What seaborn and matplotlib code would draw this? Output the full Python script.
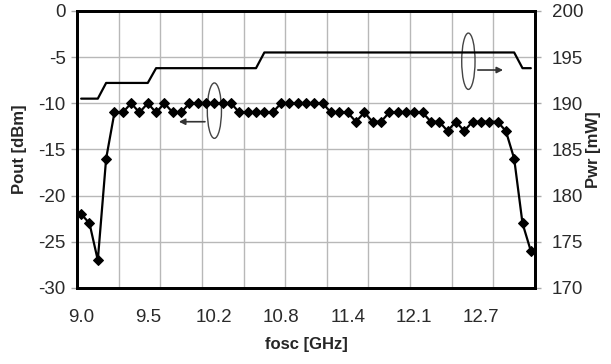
import numpy as np
import pandas as pd
import matplotlib
matplotlib.use("Agg")
import matplotlib.pyplot as plt
import seaborn as sns
from matplotlib.patches import Ellipse

# output power per frequency step (dBm)
pout = [-22, -23, -27, -16, -11, -11, -10, -11, -10, -11,
        -10, -11, -11, -10, -10, -10, -10, -10, -10, -11,
        -11, -11, -11, -11, -10, -10, -10, -10, -10, -10,
        -11, -11, -11, -12, -11, -12, -12, -11, -11, -11,
        -11, -11, -12, -12, -13, -12, -13, -12, -12, -12,
        -12, -13, -16, -23, -26]

# DC power consumption (mW)
pwr = [190.5, 190.5, 190.5, 192.2, 192.2, 192.2, 192.2, 192.2, 192.2, 193.8,
       193.8, 193.8, 193.8, 193.8, 193.8, 193.8, 193.8, 193.8, 193.8, 193.8,
       193.8, 193.8, 195.5, 195.5, 195.5, 195.5, 195.5, 195.5, 195.5, 195.5,
       195.5, 195.5, 195.5, 195.5, 195.5, 195.5, 195.5, 195.5, 195.5, 195.5,
       195.5, 195.5, 195.5, 195.5, 195.5, 195.5, 195.5, 195.5, 195.5, 195.5,
       195.5, 195.5, 195.5, 193.8, 193.8]

tick_labels = ["9.0", "9.5", "10.2", "10.8", "11.4", "12.1", "12.7"]

df = pd.DataFrame({"step": np.arange(len(pout)), "pout": pout, "pwr": pwr})

sns.set_style("white")
plt.rcParams['font.family'] = ['Liberation Sans', 'DejaVu Sans']
plt.rcParams['axes.unicode_minus'] = False

fig = plt.figure(figsize=(6.11, 3.64), dpi=100)
ax = fig.add_axes([0.126, 0.209, 0.7496, 0.761])
ax2 = ax.twinx()

sns.lineplot(data=df, x="step", y="pout", ax=ax, color="black", lw=1.6,
             marker="D", markersize=5.5, markeredgecolor="black")
sns.lineplot(data=df, x="step", y="pwr", ax=ax2, color="black", lw=1.6)

ax.set_xlim(-0.5, len(pout) - 0.5)
ax.set_ylim(-30, 0)
ax2.set_ylim(170, 200)

ax.set_xticks(np.arange(0, len(pout), 8))
ax.set_xticklabels(tick_labels)
ax.set_xticks(np.arange(4.5, len(pout) - 1, 5), minor=True)
ax.set_yticks(np.arange(-30, 1, 5))
ax2.set_yticks(np.arange(170, 201, 5))

ax.set_axisbelow(True)
ax.grid(which="minor", axis="x", color="#b8b8b8", lw=1)
ax.grid(which="major", axis="y", color="#b8b8b8", lw=1)
ax.grid(which="major", axis="x", visible=False)

ax.tick_params(axis="x", which="both", length=0, pad=15, labelsize=13.5, colors="#2a2a2a")
ax.tick_params(axis="y", length=4, width=1, color="#aaaaaa", pad=4, labelsize=13.5,
               labelcolor="#2a2a2a", left=True)
ax2.tick_params(axis="y", length=4, width=1, color="#aaaaaa", pad=8, labelsize=13.5,
                labelcolor="#2a2a2a", right=True)

for a in (ax, ax2):
    for s in a.spines.values():
        s.set_color("black")
        s.set_linewidth(2)

ax.set_xlabel("fosc [GHz]", fontweight="bold", fontsize=12, labelpad=8)
ax.set_ylabel("Pout [dBm]", fontweight="bold", fontsize=12, labelpad=8)
ax2.set_ylabel("Pwr [mW]", fontweight="bold", fontsize=12, labelpad=2)

# series markers: ellipse + arrow pointing to the matching axis
ax.add_patch(Ellipse((16.0, -10.8), 1.7, 6.0, fill=False, ec="#444444", lw=1))
ax.annotate("", xy=(11.4, -12.0), xytext=(15.2, -12.0),
            arrowprops=dict(arrowstyle="-|>", color="#333333", lw=1.2, mutation_scale=9))
ax.add_patch(Ellipse((46.5, -5.45), 1.6, 6.1, fill=False, ec="#444444", lw=1))
ax.annotate("", xy=(51.0, -6.4), xytext=(47.3, -6.4),
            arrowprops=dict(arrowstyle="-|>", color="#333333", lw=1.2, mutation_scale=9))

fig.savefig("out.png", dpi=100)
plt.close(fig)
